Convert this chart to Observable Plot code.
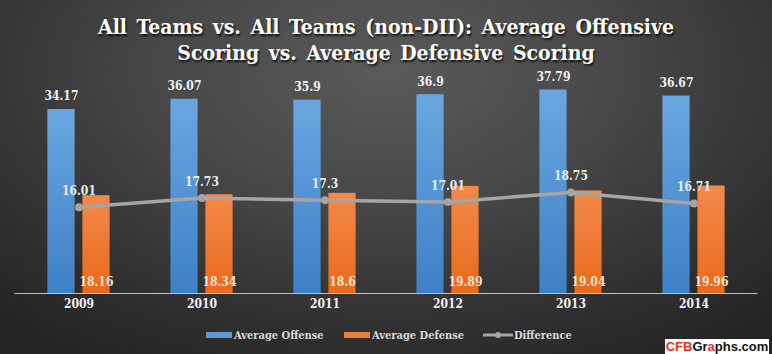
<!DOCTYPE html>
<html>
<head>
<meta charset="utf-8">
<script src="https://cdn.jsdelivr.net/npm/d3@7"></script>
<script src="https://cdn.jsdelivr.net/npm/@observablehq/plot@0.6"></script>
<style>
  html, body { margin: 0; padding: 0; }
  #wrap {
    position: relative; width: 772px; height: 354px; overflow: hidden;
    background: radial-gradient(ellipse 75% 95% at 50% 20%, #5a5a5a 0%, #474747 40%, #2e2e2e 80%, #242424 100%);
    font-family: "DejaVu Serif Condensed", "DejaVu Serif", serif;
  }
  #title {
    position: absolute; left: 0; top: 14px; width: 772px; text-align: center;
    color: #ffffff; font-weight: bold; font-size: 21px; line-height: 26px; word-spacing: 3px;
    text-shadow: 1px 2px 2px rgba(0,0,0,0.8);
  }
  #chart { position: absolute; left: 0; top: 0; }
  #legend {
    position: absolute; top: 328px; left: 0; width: 772px; height: 14px;
    font-size: 11px; font-weight: bold; color: #d9d9d9;
  }
  .li { position: absolute; top: 0; display: flex; align-items: center; height: 14px; }
  .sw { display: inline-block; width: 26px; height: 6px; margin-right: 2px; }
  #logo {
    position: absolute; left: 665px; top: 339px; width: 104px; height: 15px;
    background: #ffffff; font-family: "Liberation Sans", Arial, sans-serif; font-weight: bold;
    font-size: 13px; line-height: 15px; text-align: center; color: #111; letter-spacing: 0px;
  }
</style>
</head>
<body>
<div id="wrap">
  <div id="chart"></div>
  <div id="title">All Teams vs. All Teams (non-DII): Average Offensive<br>Scoring vs. Average Defensive Scoring</div>
  <div id="legend">
    <div class="li" style="left:206px"><span class="sw" style="background:#5b9bd5"></span>Average Offense</div>
    <div class="li" style="left:344px"><span class="sw" style="background:#ed7d31"></span>Average Defense</div>
    <div class="li" style="left:483px">
      <svg width="30" height="10" style="margin-right:1px"><line x1="0" y1="5" x2="30" y2="5" stroke="#a5a5a5" stroke-width="3"/><circle cx="15" cy="5" r="3" fill="#a5a5a5"/></svg>Difference</div>
  </div>
  <div id="logo"><span style="color:#e0361c">CFB</span>Gr<span style="color:#e0361c">a</span>phs.com</div>
</div>
<script>
const years = ["2009", "2010", "2011", "2012", "2013", "2014"];
const offense = [34.17, 36.07, 35.9, 36.9, 37.79, 36.67];
const defense = [18.16, 18.34, 18.6, 19.89, 19.04, 19.96];
const difference = [16.01, 17.73, 17.3, 17.01, 18.75, 16.71];

const data = years.map((y, i) => ({year: y, offense: offense[i], defense: defense[i], difference: difference[i]}));
const fmt = v => String(v);

const svgDefs = () => {
  const ns = "http://www.w3.org/2000/svg";
  const defs = document.createElementNS(ns, "defs");
  defs.innerHTML = `
    <linearGradient id="gBlue" x1="0" y1="0" x2="0" y2="1">
      <stop offset="0" stop-color="#6aa7e0"/><stop offset="1" stop-color="#3d80c6"/>
    </linearGradient>
    <linearGradient id="gOrange" x1="0" y1="0" x2="0" y2="1">
      <stop offset="0" stop-color="#f3894a"/><stop offset="1" stop-color="#e86a1c"/>
    </linearGradient>`;
  return defs;
};

const chart = Plot.plot({
  width: 772,
  height: 354,
  marginLeft: 14.6,
  marginRight: 14.6,
  marginTop: 77.6,
  marginBottom: 61,
  style: {background: "transparent", fontFamily: "'DejaVu Serif Condensed', 'DejaVu Serif', serif", overflow: "visible"},
  x: {domain: years, padding: 0, label: null},
  y: {domain: [0, 40], axis: null},
  marks: [
    () => svgDefs(),
    Plot.barY(data, {x: "year", y: "offense", fill: "url(#gBlue)", insetLeft: 30.4, insetRight: 65.4}),
    Plot.barY(data, {x: "year", y: "defense", fill: "url(#gOrange)", insetLeft: 65.4, insetRight: 30.4}),
    Plot.ruleY([0], {stroke: "#bfbfbf", strokeWidth: 1}),
    Plot.line(data, {x: "year", y: "difference", stroke: "#a5a5a5", strokeWidth: 3.5}),
    Plot.dot(data, {x: "year", y: "difference", fill: "#a5a5a5", r: 4}),
    Plot.text(data, {x: "year", y: "offense", text: d => fmt(d.offense), dx: -17.5, dy: -13, fill: "#f2f2f2", fontSize: 12, fontWeight: "bold"}),
    Plot.text(data, {x: "year", y: d => 0, text: d => fmt(d.defense), dx: 17.5, dy: -11, fill: "#fbe3d2", fontSize: 12, fontWeight: "bold"}),
    Plot.text(data, {x: "year", y: "difference", text: d => fmt(d.difference), dy: -16, fill: "#e6eef8", fontSize: 12, fontWeight: "bold"}),
    Plot.axisX({tickSize: 0, tickPadding: 6, fontSize: 12, fontWeight: "bold", color: "#f2f2f2", label: null})
  ]
});
document.getElementById("chart").appendChild(chart);
</script>
</body>
</html>
